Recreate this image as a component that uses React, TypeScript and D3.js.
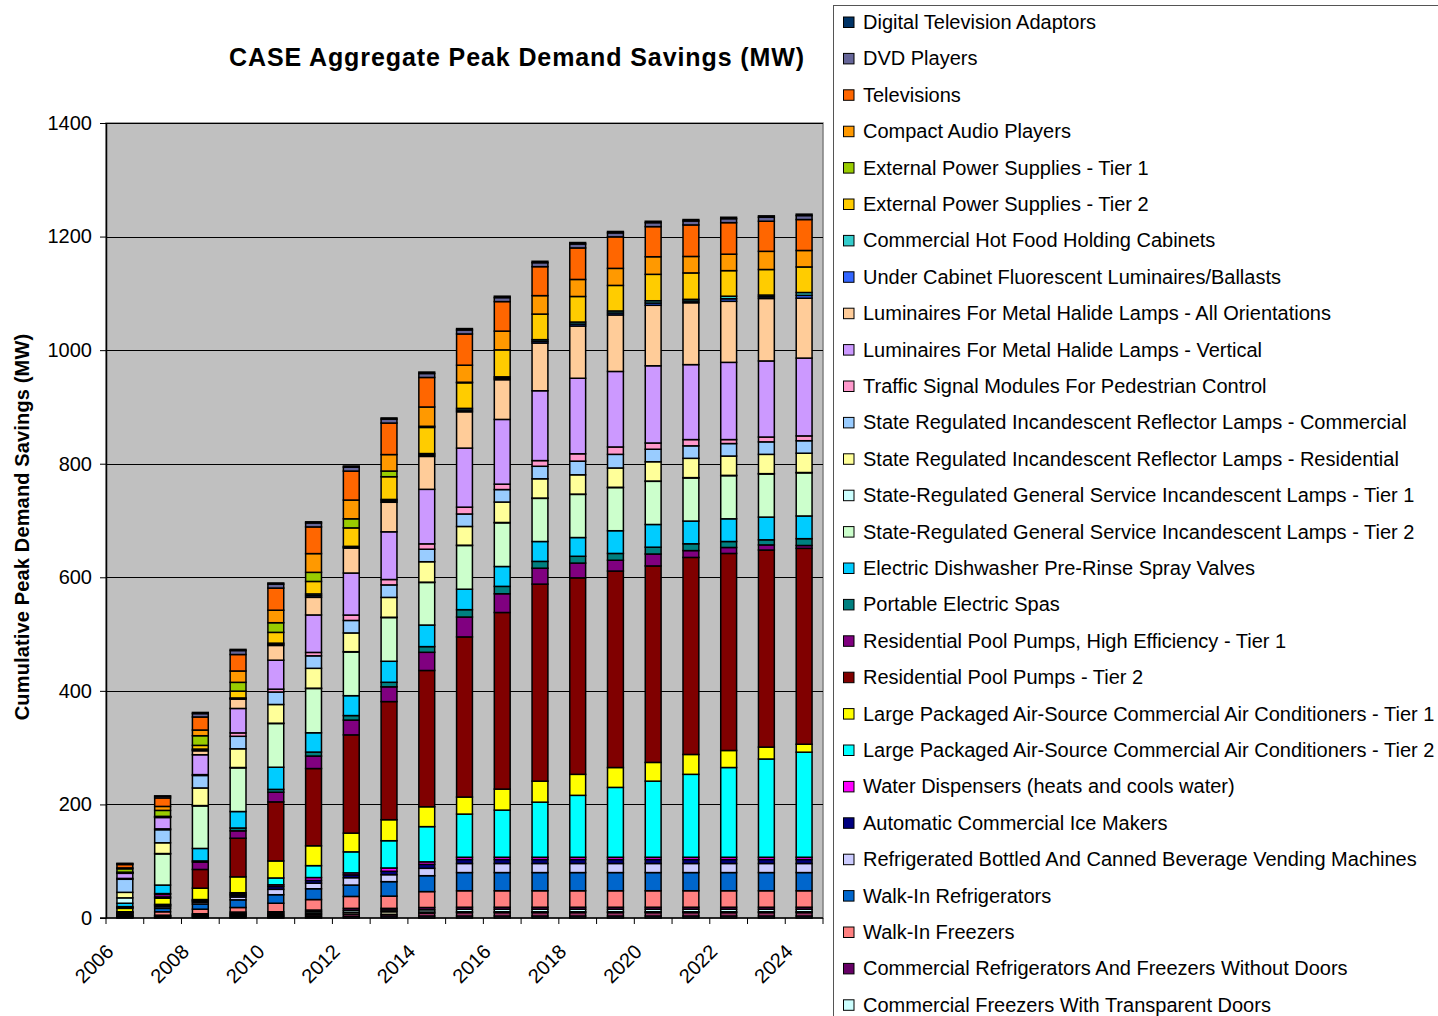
import React, { useEffect, useRef } from 'react';
import * as d3 from 'd3';

// categories
const years = [2006, 2007, 2008, 2009, 2010, 2011, 2012, 2013, 2014, 2015, 2016, 2017, 2018, 2019, 2020, 2021, 2022, 2023, 2024];

// series values (MW), bottom of the stack first
const solidDoorRefrigerators = [1, 1, 1.5, 2, 2, 2.5, 3, 3.5, 3.5, 3.5, 3.5, 3.5, 3.5, 3.5, 3.5, 3.5, 3.5, 3.5, 3.5];
const solidDoorFreezers = [1, 1, 1.5, 2, 2, 3, 4, 3, 5, 6, 6, 6, 6, 6, 6, 6, 6, 6, 6];
const transparentDoorRefrigerators = [1, 1, 1.5, 2, 2, 2.5, 3, 4.5, 2, 1.5, 1.5, 1.5, 1.5, 1.5, 1.5, 1.5, 1.5, 1.5, 1.5];
const transparentDoorFreezers = [1, 1, 1.5, 2, 2.5, 3, 3.5, 3, 4, 4.5, 4.5, 4.5, 4.5, 4.5, 4.5, 4.5, 4.5, 4.5, 4.5];
const noDoorCases = [1, 1, 1.5, 2.5, 2.5, 3, 3.5, 3, 4, 3.5, 3.5, 3.5, 3.5, 3.5, 3.5, 3.5, 3.5, 3.5, 3.5];
const walkInFreezers = [1.5, 6, 8, 8, 15, 18.5, 21, 21.5, 28, 29, 29, 29, 29, 29, 29, 29, 29, 29, 29];
const walkInRefrigerators = [1.5, 6, 9, 13.5, 15, 19, 20, 25.5, 28, 32, 32, 32, 32, 32, 32, 32, 32, 32, 32];
const vendingMachines = [1, 3, 3, 5, 9.5, 9.7, 13, 12.3, 13, 16, 16, 16, 16, 16, 16, 16, 16, 16, 16];
const iceMakers = [1, 2, 2, 3, 5, 5, 5, 6, 7, 7, 7, 7, 7, 7, 7, 7, 7, 7, 7];
const waterDispensers = [0.5, 1, 1.5, 2, 3, 5, 3.5, 5.8, 4.4, 4, 4, 4, 4, 4, 4, 4, 4, 4, 4];
const packagedAcTier2 = [0.5, 1, 1.5, 2.5, 12, 21, 37, 48, 62, 76, 83, 97, 109, 123, 134, 146, 158, 173, 185];
const packagedAcTier1 = [6, 11, 20, 28, 30, 35, 33, 37, 35, 30, 37, 37, 37, 35, 33, 35, 30, 21, 14];
const poolPumpsTier2 = [1, 2, 33, 68, 104, 136, 173, 208, 240, 282, 311, 347, 346, 346, 346, 347, 347, 347, 345];
const poolPumpsTier1 = [1, 5, 13, 13, 17, 22, 26, 26, 32, 35, 33, 28, 26, 19, 21, 12, 10.5, 9, 5];
const portableSpas = [1, 1, 2, 5, 5, 7, 8, 8, 10, 13, 13, 12, 12, 12, 12, 12, 10.5, 9, 12];
const sprayValves = [6, 15, 22, 29, 39, 34, 35, 37, 38, 36, 35, 35, 33, 40, 40, 40, 40, 40, 40];
const generalServiceTier2 = [0, 55, 75, 77, 77, 78, 77, 77, 75, 77, 77, 76, 76, 76, 76, 76, 76, 76, 76];
const generalServiceTier1 = [9.5, 0.5, 0.5, 0.5, 0.5, 0.5, 0.5, 0.5, 0.5, 0.5, 0.5, 0.5, 0.5, 0.5, 0.5, 0.5, 0.5, 0.5, 0.5];
const reflectorResidential = [9.7, 19, 31, 33, 33, 35, 33, 35, 36, 33, 36, 34, 34, 34, 34, 34, 34, 34, 34];
const reflectorCommercial = [23, 23, 22, 22, 22, 22, 22, 22, 22, 22, 22, 22, 24, 24, 22, 22, 22, 22, 22];
const trafficSignals = [1.5, 1.5, 1.5, 6, 5, 6, 9.5, 9.5, 9.5, 12, 9.5, 10, 13, 13, 11, 11, 7, 8.5, 8.5];
const metalHalideVertical = [9, 20, 35, 43, 51, 66, 74, 84, 96, 104, 114, 123, 133, 133, 136, 132, 136, 134, 137];
const metalHalideAll = [0.5, 0.5, 7, 16.5, 26, 31, 44, 52, 58, 64, 70, 84, 92, 99.5, 106.5, 109, 107.5, 110, 105.5];
const underCabinet = [0.5, 0.5, 1.5, 1, 2, 3, 1.5, 2.5, 2.5, 3, 2.5, 3, 3.5, 3.5, 4, 3, 4.5, 3, 5];
const hotFoodCabinets = [0.5, 0.5, 1.5, 1, 2, 3, 1.5, 2.5, 2.5, 3, 2.5, 3, 3.5, 3.5, 4, 3, 4.5, 3, 5];
const powerSuppliesTier2 = [0.5, 0.5, 6.5, 12, 19, 22, 32.5, 40, 46, 45, 47.5, 45, 45, 45, 46.5, 46.5, 45, 45, 45];
const powerSuppliesTier1 = [6, 10.5, 17, 15.5, 17, 16, 16, 10, 2, 1, 0, 0, 0, 0, 0, 0, 0, 0, 0];
const compactAudio = [1.5, 7, 10, 20, 22, 33, 33, 29, 34, 30, 33, 32.5, 30, 30, 31, 29, 29, 32, 29];
const televisions = [6, 15, 23, 29, 39, 47, 51, 55.5, 52, 55, 52, 51, 55.5, 55.5, 53, 55.5, 55.5, 53, 54.5];
const dvdPlayers = [1.5, 3, 6, 7, 7, 7, 7, 7, 7, 7, 7, 7, 7, 7, 7, 7, 7, 7, 7];
const tvAdaptors = [0.5, 0.5, 2, 2, 2, 2, 2, 2, 2.5, 2.5, 2.5, 2.5, 2.5, 2.5, 2.5, 2.5, 2.5, 2.5, 2.5];

const seriesNames = [
  'Commercial Refrigerators With Solid Doors',
  'Commercial Freezers With Solid Doors',
  'Commercial Refrigerators With Transparent Doors',
  'Commercial Freezers With Transparent Doors',
  'Commercial Refrigerators And Freezers Without Doors',
  'Walk-In Freezers',
  'Walk-In Refrigerators',
  'Refrigerated Bottled And Canned Beverage Vending Machines',
  'Automatic Commercial Ice Makers',
  'Water Dispensers (heats and cools water)',
  'Large Packaged Air-Source Commercial Air Conditioners - Tier 2',
  'Large Packaged Air-Source Commercial Air Conditioners - Tier 1',
  'Residential Pool Pumps - Tier 2',
  'Residential Pool Pumps, High Efficiency - Tier 1',
  'Portable Electric Spas',
  'Electric Dishwasher Pre-Rinse Spray Valves',
  'State-Regulated General Service Incandescent Lamps - Tier 2',
  'State-Regulated General Service Incandescent Lamps - Tier 1',
  'State Regulated Incandescent Reflector Lamps - Residential',
  'State Regulated Incandescent Reflector Lamps - Commercial',
  'Traffic Signal Modules For Pedestrian Control',
  'Luminaires For Metal Halide Lamps - Vertical',
  'Luminaires For Metal Halide Lamps - All Orientations',
  'Under Cabinet Fluorescent Luminaires/Ballasts',
  'Commercial Hot Food Holding Cabinets',
  'External Power Supplies - Tier 2',
  'External Power Supplies - Tier 1',
  'Compact Audio Players',
  'Televisions',
  'DVD Players',
  'Digital Television Adaptors',
];

const seriesValues = [
  solidDoorRefrigerators, solidDoorFreezers, transparentDoorRefrigerators, transparentDoorFreezers,
  noDoorCases, walkInFreezers, walkInRefrigerators, vendingMachines, iceMakers, waterDispensers,
  packagedAcTier2, packagedAcTier1, poolPumpsTier2, poolPumpsTier1, portableSpas, sprayValves,
  generalServiceTier2, generalServiceTier1, reflectorResidential, reflectorCommercial, trafficSignals,
  metalHalideVertical, metalHalideAll, underCabinet, hotFoodCabinets, powerSuppliesTier2,
  powerSuppliesTier1, compactAudio, televisions, dvdPlayers, tvAdaptors,
];

const seriesColors = [
  '#9999FF', '#993366', '#FFFFCC', '#CCFFFF', '#660066', '#FF8080', '#0066CC', '#CCCCFF',
  '#000080', '#FF00FF', '#00FFFF', '#FFFF00', '#800000', '#800080', '#008080', '#00CCFF',
  '#CCFFCC', '#CCFFFF', '#FFFF99', '#99CCFF', '#FF99CC', '#CC99FF', '#FFCC99', '#3366FF',
  '#33CCCC', '#FFCC00', '#99CC00', '#FF9900', '#FF6600', '#666699', '#003366',
];

const yTicks = [0, 200, 400, 600, 800, 1000, 1200, 1400];

const FONT = '"Liberation Sans", Arial, sans-serif';

const App = () => {
  const ref = useRef(null);

  useEffect(() => {
    const width = 1438;
    const height = 1016;
    const margin = { top: 123, right: 615, bottom: 98, left: 106 };

    const svg = d3.select(ref.current);
    svg.selectAll('*').remove();
    svg.attr('width', width).attr('height', height).style('font-family', FONT);

    svg.append('rect').attr('width', width).attr('height', height).attr('fill', '#fff');

    const x = d3.scaleBand()
      .domain(years)
      .range([margin.left, width - margin.right])
      .paddingInner(0.58)
      .paddingOuter(0.29);

    const y = d3.scaleLinear()
      .domain([0, 1400])
      .range([height - margin.bottom, margin.top]);

    const x0 = margin.left;
    const x1 = width - margin.right;

    // plot area
    svg.append('rect')
      .attr('x', x0)
      .attr('y', y(1400))
      .attr('width', x1 - x0)
      .attr('height', y(0) - y(1400))
      .attr('fill', '#C0C0C0')
      .attr('stroke', '#808080')
      .attr('stroke-width', 1.5);

    // gridlines
    svg.append('g')
      .selectAll('line')
      .data(yTicks.filter(d => d > 0))
      .enter()
      .append('line')
      .attr('x1', x0)
      .attr('x2', x1)
      .attr('y1', d => Math.round(y(d)) + 0.5)
      .attr('y2', d => Math.round(y(d)) + 0.5)
      .attr('stroke', '#000')
      .attr('stroke-width', 1);

    // stacked bars
    const table = years.map((yr, i) => {
      const row = { year: yr };
      seriesValues.forEach((vals, k) => { row[k] = vals[i]; });
      return row;
    });
    const stack = d3.stack().keys(seriesValues.map((_, k) => k));
    const layers = stack(table);

    svg.append('g')
      .selectAll('g')
      .data(layers)
      .enter()
      .append('g')
      .attr('fill', d => seriesColors[d.key])
      .selectAll('rect')
      .data(d => d)
      .enter()
      .append('rect')
      .attr('x', d => x(d.data.year))
      .attr('y', d => y(d[1]))
      .attr('width', x.bandwidth())
      .attr('height', d => y(d[0]) - y(d[1]))
      .attr('stroke', '#000')
      .attr('stroke-width', 1.5);

    // y axis
    const yAxis = svg.append('g')
      .attr('transform', `translate(${x0},0)`)
      .call(d3.axisLeft(y).tickValues(yTicks).tickFormat(d3.format('d')).tickSize(6).tickPadding(8).tickSizeOuter(0));
    yAxis.select('.domain').attr('stroke', '#000').attr('stroke-width', 1.5);
    yAxis.selectAll('.tick line').attr('stroke', '#000');
    yAxis.selectAll('.tick text')
      .attr('font-size', 20)
      .attr('font-family', FONT)
      .attr('fill', '#000');

    // x axis
    const step = x.step();
    const bounds = years.map(yr => x(yr) + x.bandwidth() / 2 - step / 2).concat([x1]);
    svg.append('line')
      .attr('x1', x0 - 6)
      .attr('x2', x1)
      .attr('y1', y(0))
      .attr('y2', y(0))
      .attr('stroke', '#000')
      .attr('stroke-width', 1.5);
    svg.append('g')
      .selectAll('line')
      .data(bounds)
      .enter()
      .append('line')
      .attr('x1', d => d)
      .attr('x2', d => d)
      .attr('y1', y(0))
      .attr('y2', y(0) + 6)
      .attr('stroke', '#000');

    svg.append('g')
      .selectAll('text')
      .data(years.filter((_, i) => i % 2 === 0))
      .enter()
      .append('text')
      .attr('transform', d => `translate(${x(d) + x.bandwidth() / 2 - 15},${y(0) + 30}) rotate(-45)`)
      .attr('text-anchor', 'end')
      .attr('dy', '0.35em')
      .attr('font-size', 20)
      .text(d => d);

    // titles
    svg.append('text')
      .attr('x', 517)
      .attr('y', 66)
      .attr('text-anchor', 'middle')
      .attr('font-size', 25)
      .attr('font-weight', 'bold')
      .attr('letter-spacing', 0.9)
      .text('CASE Aggregate Peak Demand Savings (MW)');

    svg.append('text')
      .attr('transform', `translate(22,527) rotate(-90)`)
      .attr('text-anchor', 'middle')
      .attr('dy', '0.35em')
      .attr('font-size', 20)
      .attr('font-weight', 'bold')
      .attr('letter-spacing', 0.15)
      .text('Cumulative Peak Demand Savings (MW)');

    // legend (top of the stack first); entries below the page edge are not drawn
    const legend = svg.append('g');
    legend.append('rect')
      .attr('x', 833.5)
      .attr('y', 5.5)
      .attr('width', 620)
      .attr('height', 1200)
      .attr('fill', '#fff')
      .attr('stroke', '#555');

    const rowGap = 36.4;
    const order = seriesNames.map((_, k) => k).reverse().filter((_, i) => 22 + i * rowGap < height);
    const item = legend.selectAll('g.item')
      .data(order)
      .enter()
      .append('g')
      .attr('class', 'item')
      .attr('transform', (d, i) => `translate(843,${22 + i * rowGap})`);

    item.append('rect')
      .attr('x', 0.5)
      .attr('y', -5)
      .attr('width', 10.5)
      .attr('height', 10.5)
      .attr('fill', d => seriesColors[d])
      .attr('stroke', '#000');

    item.append('text')
      .attr('x', 20)
      .attr('dy', '0.35em')
      .attr('font-size', 20)
      .text(d => seriesNames[d]);
  }, []);

  return (
    <svg ref={ref} style={{ position: 'absolute', left: 0, top: 0, display: 'block' }}></svg>
  );
};

export default App;
